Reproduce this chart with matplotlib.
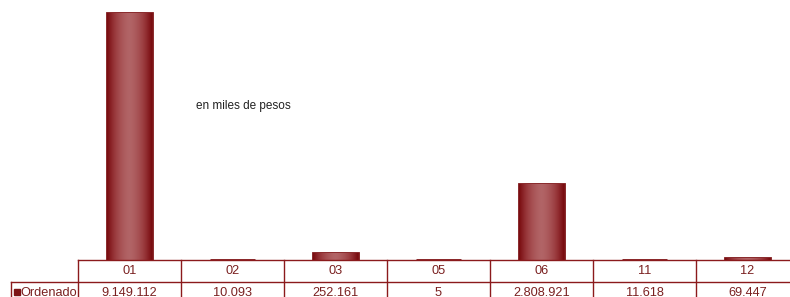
import numpy as np
import matplotlib.pyplot as plt
from matplotlib import transforms

plt.rcParams["font.family"] = ["Liberation Sans", "DejaVu Sans"]

categorias = ["01", "02", "03", "05", "06", "11", "12"]
ordenado = [9149112, 10093, 252161, 5, 2808921, 11618, 69447]
etiquetas = ["9.149.112", "10.093", "252.161", "5", "2.808.921", "11.618", "69.447"]
serie = "Ordenado"

rojo = "#7d1416"
borde = "#8b1a1c"
texto = "#7a2020"

W, H = 790, 297
fig = plt.figure(figsize=(W / 100, H / 100), dpi=100)
# eje: de x=78 a x=799 px, de y=0 a y=260 px
ax = fig.add_axes([78 / W, 1 - 260 / H, 721 / W, 260 / H])

x = np.arange(len(categorias))
ancho = 0.43
barras = ax.bar(x, ordenado, width=ancho, color=rojo, edgecolor=rojo,
                linewidth=2.0, zorder=2)

# degradado horizontal dentro de cada barra
grad = np.abs(np.linspace(-1, 1, 64)) ** 1.6
cmap = plt.matplotlib.colors.LinearSegmentedColormap.from_list(
    "barra", ["#b16466", "#9a3a3d", "#7a0c10"])
for b in barras:
    x0, w, h = b.get_x(), b.get_width(), b.get_height()
    if h <= 0:
        continue
    im = ax.imshow(grad[np.newaxis, :], cmap=cmap, aspect="auto",
                   extent=[x0, x0 + w, 0, h], zorder=3, vmin=0, vmax=1)
    im.set_clip_path(b)

ax.set_xlim(-0.5, len(categorias) - 0.5)
ax.set_ylim(0, 9149112 * 260 / 247)
ax.axis("off")

ax.text(196 / W, 1 - 106 / H, "en miles de pesos", transform=fig.transFigure,
        fontsize=8.5, color="#222222", va="center", ha="left")

# tabla de datos debajo del eje
fila = 22 / 260  # alto de fila en fracción de eje
tr = transforms.blended_transform_factory(ax.transData, ax.transAxes)
kw = dict(color=borde, lw=1.0, clip_on=False, zorder=4)
ax.plot([-0.5, len(categorias) - 0.5], [0, 0], transform=tr, **kw)
ax.plot([-0.5 - 67 / 103, len(categorias) - 0.5], [-fila, -fila], transform=tr, **kw)
for i in range(len(categorias) + 1):
    ax.plot([i - 0.5, i - 0.5], [0, -2.2 * fila], transform=tr, **kw)
ax.plot([-0.5 - 67 / 103] * 2, [-fila, -2.2 * fila], transform=tr, **kw)

for i, (c, e) in enumerate(zip(categorias, etiquetas)):
    ax.text(i, -0.5 * fila, c, transform=tr, ha="center", va="center",
            fontsize=9.2, color=texto)
    ax.text(i, -1.5 * fila, e, transform=tr, ha="center", va="center",
            fontsize=9.2, color=texto)

ax.text(-0.5 - 58 / 103, -1.5 * fila, serie, transform=tr, ha="left",
        va="center", fontsize=9.2, color=texto)
ax.plot([-0.5 - 61.5 / 103], [-1.45 * fila], transform=tr, marker="s",
        markersize=4.5, color=rojo, clip_on=False, zorder=5)

fig.savefig("out.png", dpi=100)
